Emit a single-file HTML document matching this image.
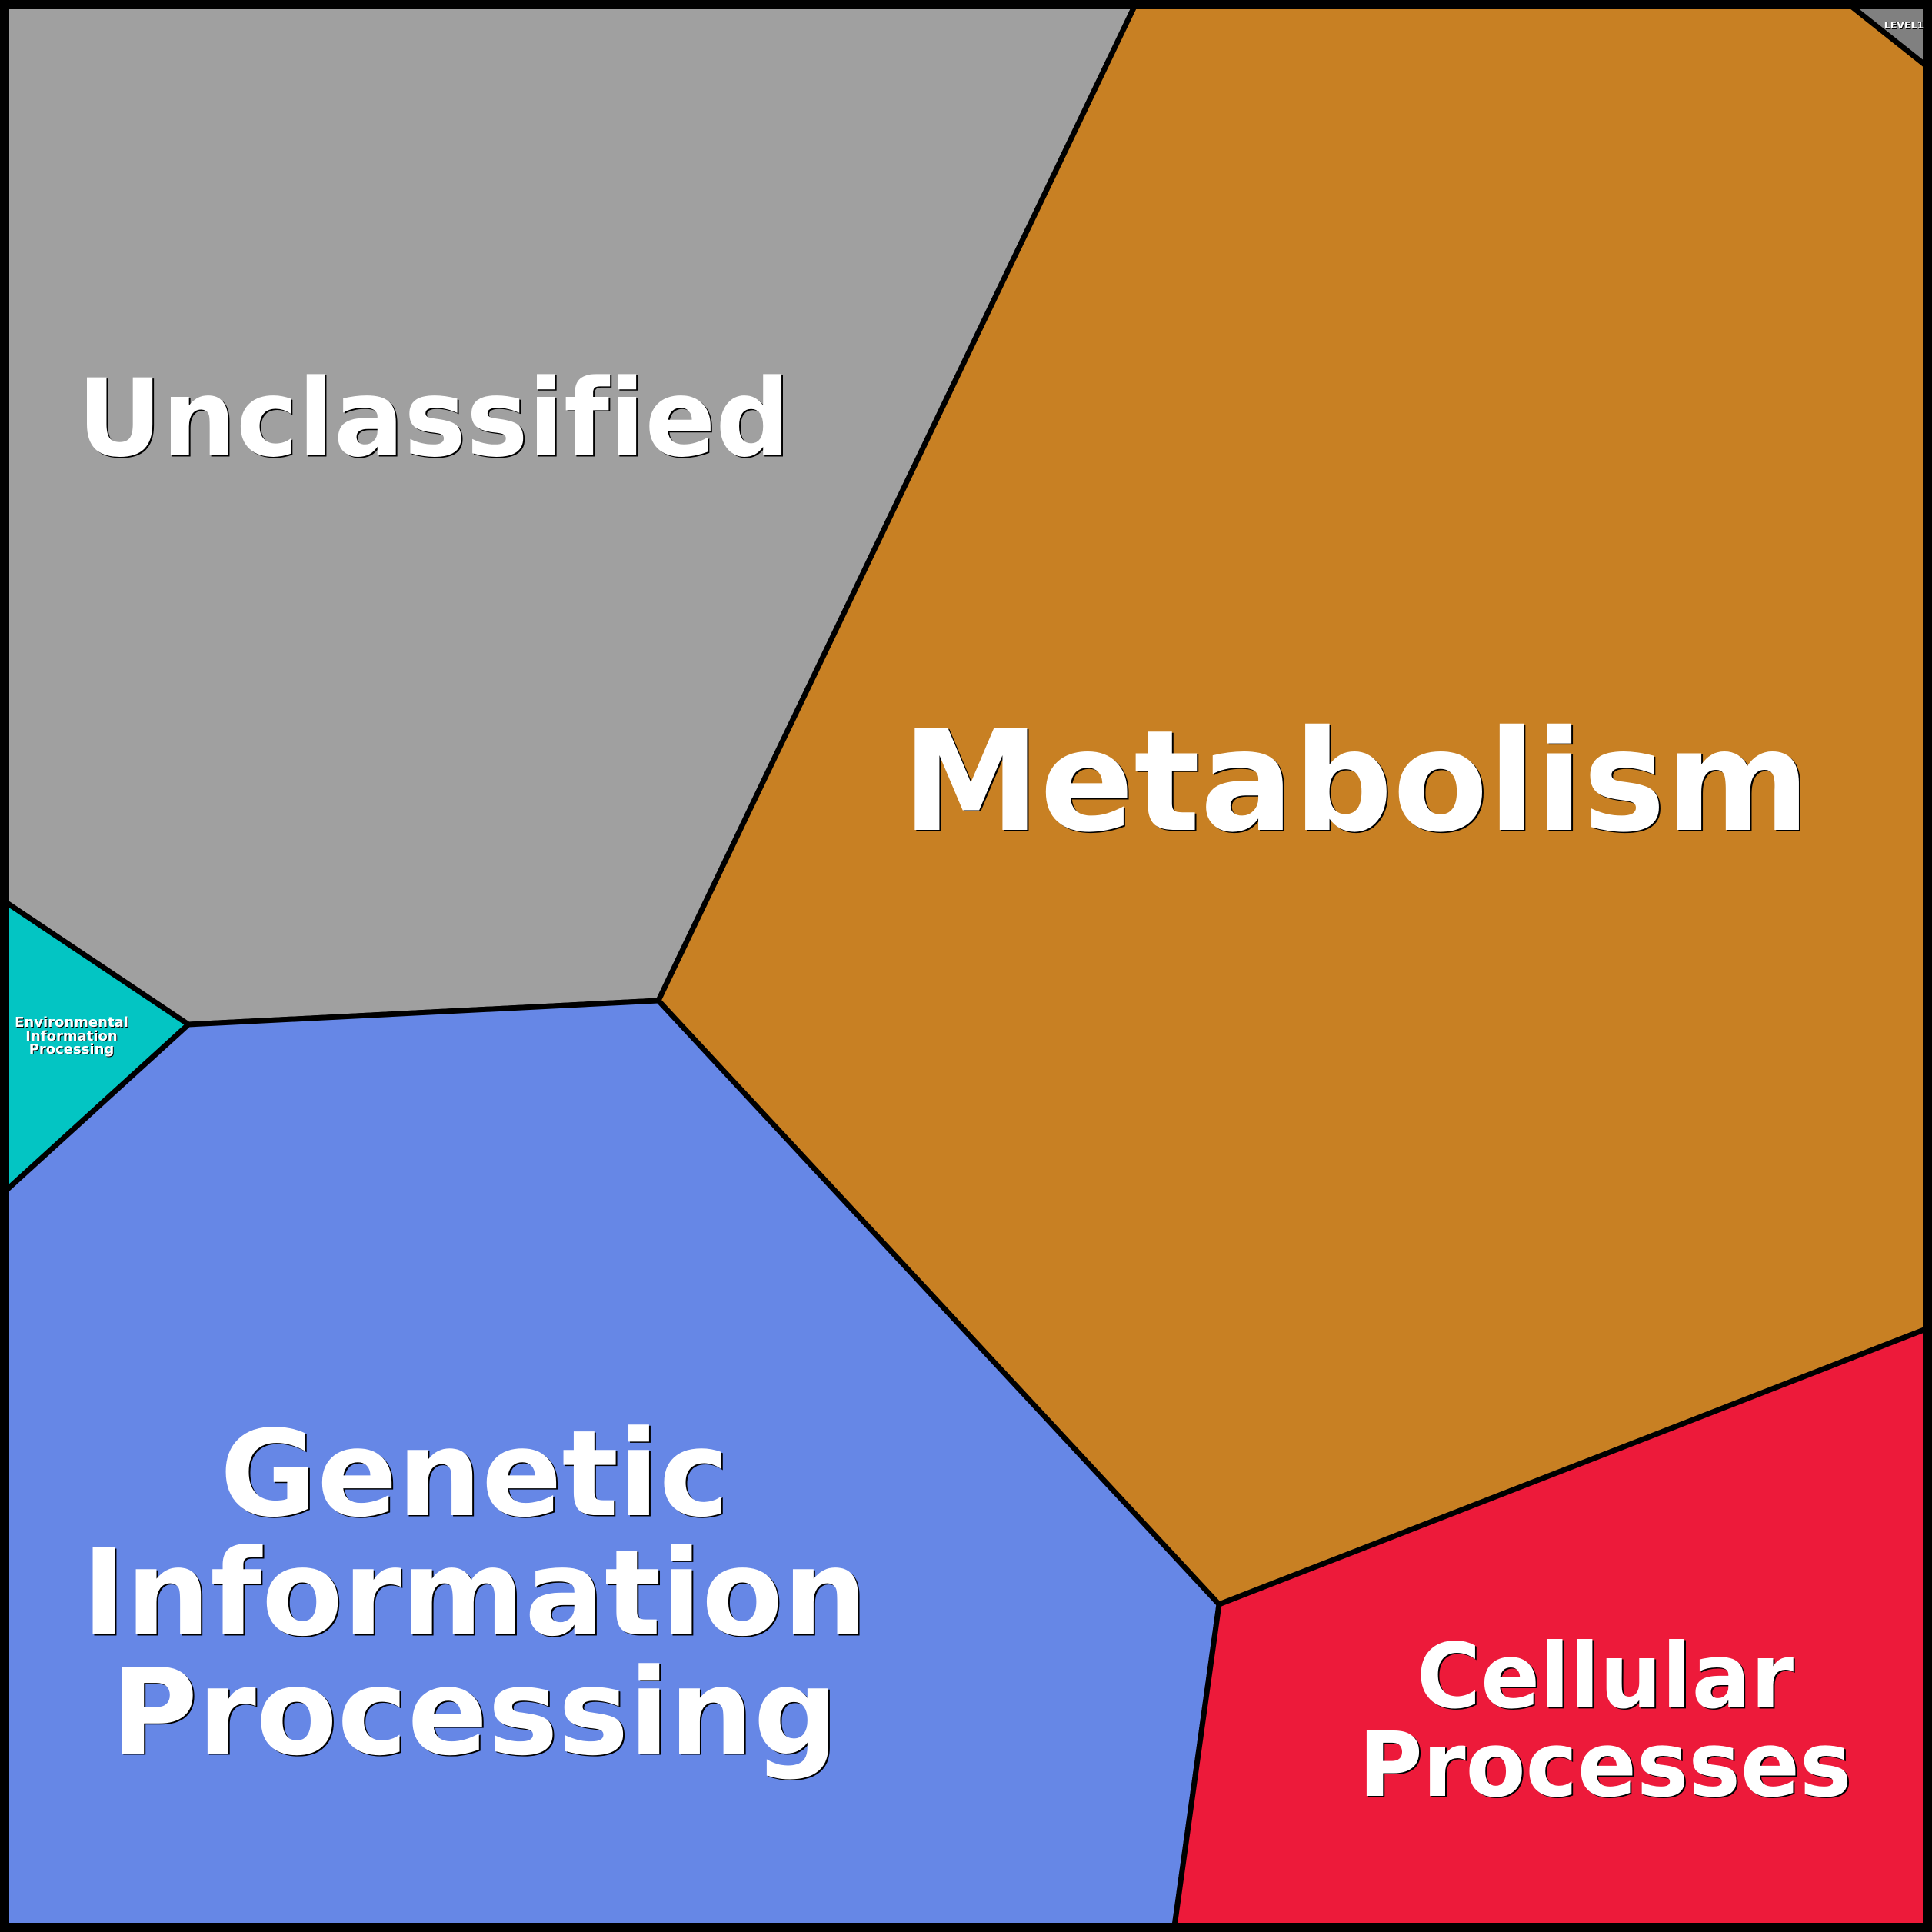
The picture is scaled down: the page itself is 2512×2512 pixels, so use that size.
<!DOCTYPE html>
<html>
<head>
<meta charset="utf-8">
<style>
  html, body { margin: 0; padding: 0; background: #000; }
  svg { display: block; }
  text { font-family: "DejaVu Sans", "Liberation Sans", sans-serif; font-weight: bold; text-anchor: middle; font-variant-ligatures: none; font-feature-settings: "liga" 0, "clig" 0; }
</style>
</head>
<body>
<svg width="2512" height="2512" viewBox="0 0 2512 2512" xmlns="http://www.w3.org/2000/svg">
  <g stroke="#000" stroke-width="7" stroke-linejoin="miter">
    <polygon points="0,0 1479,0 856,1301 245,1332 0,1168" fill="#A0A0A0"/>
    <polygon points="1479,0 2397,0 2512,91.5 2512,1725 1585,2086 856,1301" fill="#C88023"/>
    <polygon points="2397,0 2512,0 2512,91.5" fill="#808080"/>
    <polygon points="0,1168 245,1332 0,1555" fill="#03C5C3"/>
    <polygon points="0,1555 245,1332 856,1301 1585,2086 1526,2512 0,2512" fill="#6687E6"/>
    <polygon points="1585,2086 2512,1725 2512,2512 1526,2512" fill="#ED1A3A"/>
  </g>
  <rect x="6" y="6" width="2500" height="2500" fill="none" stroke="#000" stroke-width="12"/>

  <!-- Unclassified -->
  <g transform="matrix(0.975,0,0,1,14.1,0)">
    <text x="566" y="593.5" font-size="139" fill="#000">Unclassified</text>
    <text x="564" y="592" font-size="139" fill="#fff">Unclassified</text>
  </g>

  <!-- Metabolism -->
  <g transform="matrix(0.99,0,0,1,17.63,0)">
    <text x="1765" y="1080.5" font-size="182" fill="#000">Metabolism</text>
    <text x="1763" y="1079" font-size="182" fill="#fff">Metabolism</text>
  </g>

  <!-- Genetic Information Processing -->
  <g font-size="155" transform="matrix(0.993,0,0,1,4.32,0)">
    <text x="619" y="1971.5" fill="#000">Genetic</text>
    <text x="617" y="1970" fill="#fff">Genetic</text>
    <text x="619" y="2126.5" fill="#000">Information</text>
    <text x="617" y="2125" fill="#fff">Information</text>
    <text x="619" y="2281.5" fill="#000">Processing</text>
    <text x="617" y="2280" fill="#fff">Processing</text>
  </g>

  <!-- Cellular Processes -->
  <g font-size="117" transform="matrix(0.97,0,0,1,62.6,0)">
    <text x="2089" y="2221.5" fill="#000">Cellular</text>
    <text x="2087" y="2220" fill="#fff">Cellular</text>
    <text x="2089" y="2336.5" fill="#000">Processes</text>
    <text x="2087" y="2335" fill="#fff">Processes</text>
  </g>

  <!-- Environmental Information Processing -->
  <g font-size="18">
    <text x="94" y="1336" fill="#000">Environmental</text>
    <text x="93" y="1335" fill="#fff">Environmental</text>
    <text x="94" y="1354" fill="#000">Information</text>
    <text x="93" y="1353" fill="#fff">Information</text>
    <text x="94" y="1371" fill="#000">Processing</text>
    <text x="93" y="1370" fill="#fff">Processing</text>
  </g>

  <!-- LEVEL1 -->
  <text x="2476.5" y="38" font-size="12.5" fill="#000">LEVEL1</text>
  <text x="2475.5" y="37" font-size="12.5" fill="#fff">LEVEL1</text>
</svg>
</body>
</html>
